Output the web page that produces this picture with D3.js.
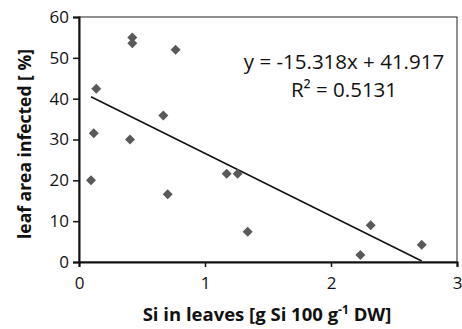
<!DOCTYPE html>
<html>
<head>
<meta charset="utf-8">
<script src="https://cdn.jsdelivr.net/npm/d3@7"></script>
<style>
  body { margin: 0; background: #fff; }
  text { font-family: "Open Sans", sans-serif; fill: #111; }
</style>
</head>
<body>
<div id="chart"></div>
<script>
  "use strict";

  // Si content in leaves vs. infected leaf area
  var siLeaves = [0.095, 0.117, 0.137, 0.405, 0.423, 0.423, 0.669, 0.704, 0.767, 1.172, 1.259, 1.339, 2.233, 2.315, 2.72];
  var leafInfected = [20.0, 31.5, 42.4, 30.0, 55.0, 53.6, 35.9, 16.6, 52.0, 21.6, 21.6, 7.4, 1.7, 9.0, 4.2];
  var xTicks = [0, 1, 2, 3];
  var yTicks = [0, 10, 20, 30, 40, 50, 60];
  var slope = -15.318, intercept = 41.917;

  var width = 462, height = 329;
  var margin = {top: 17, right: 5, bottom: 67, left: 79};
  var w = width - margin.left - margin.right;
  var h = height - margin.top - margin.bottom;

  var svg = d3.select("#chart").append("svg")
    .attr("width", width)
    .attr("height", height);

  var g = svg.append("g")
    .attr("transform", `translate(${margin.left},${margin.top})`);

  var x = d3.scaleLinear().domain([0, 3]).range([0, w]);
  var y = d3.scaleLinear().domain([0, 60]).range([h, 0]);

  // frame
  g.append("rect")
    .attr("width", w)
    .attr("height", h)
    .attr("fill", "none")
    .attr("stroke", "#222")
    .attr("stroke-width", 1);

  var xAxis = g.append("g")
    .attr("transform", `translate(0,${h})`)
    .call(d3.axisBottom(x).tickValues(xTicks).tickSize(5).tickPadding(10).tickFormat(d3.format("d")));
  var yAxis = g.append("g")
    .call(d3.axisLeft(y).tickValues(yTicks).tickSize(6).tickPadding(4).tickFormat(d3.format("d")));

  [xAxis, yAxis].forEach(function(a) {
    a.select(".domain").attr("stroke", "#111").attr("stroke-width", 2);
    a.selectAll(".tick line").attr("stroke", "#111").attr("stroke-width", 1.5);
    a.selectAll(".tick text")
      .style("font-family", "'Open Sans', sans-serif")
      .style("font-size", "17px")
      .attr("fill", "#111");
  });

  // trend line over the data range
  var xr = d3.extent(siLeaves);
  var line = d3.line().x(d => x(d)).y(d => y(slope * d + intercept));
  g.append("path")
    .attr("d", line(xr))
    .attr("fill", "none")
    .attr("stroke", "#111")
    .attr("stroke-width", 1.5);

  var pts = siLeaves.map((v, i) => [v, leafInfected[i]]);
  g.selectAll(".pt")
    .data(pts)
    .join("path")
    .attr("class", "pt")
    .attr("d", d3.symbol(d3.symbolSquare, 50))
    .attr("transform", d => `translate(${x(d[0])},${y(d[1])}) rotate(45)`)
    .attr("fill", "#595959");

  // equation
  g.append("text")
    .attr("x", 344 - margin.left)
    .attr("y", 69 - margin.top)
    .attr("text-anchor", "middle")
    .style("font-size", "20.5px")
    .text("y = -15.318x + 41.917");
  g.append("text")
    .attr("x", 344 - margin.left)
    .attr("y", 97 - margin.top)
    .attr("text-anchor", "middle")
    .style("font-size", "20.5px")
    .text("R² = 0.5131");

  // axis titles
  var xt = svg.append("text")
    .attr("x", 267)
    .attr("y", 321)
    .attr("text-anchor", "middle")
    .style("font-size", "18.5px")
    .style("font-weight", "bold");
  xt.append("tspan").text("Si in leaves [g Si 100 g");
  xt.append("tspan").text("-1").attr("dy", -7).style("font-size", "12px");
  xt.append("tspan").text(" DW]").attr("dy", 7);

  svg.append("text")
    .attr("transform", `translate(31,144) rotate(-90)`)
    .attr("text-anchor", "middle")
    .style("font-size", "17.5px")
    .style("font-weight", "bold")
    .text("leaf area infected [ %]");
</script>
</body>
</html>
